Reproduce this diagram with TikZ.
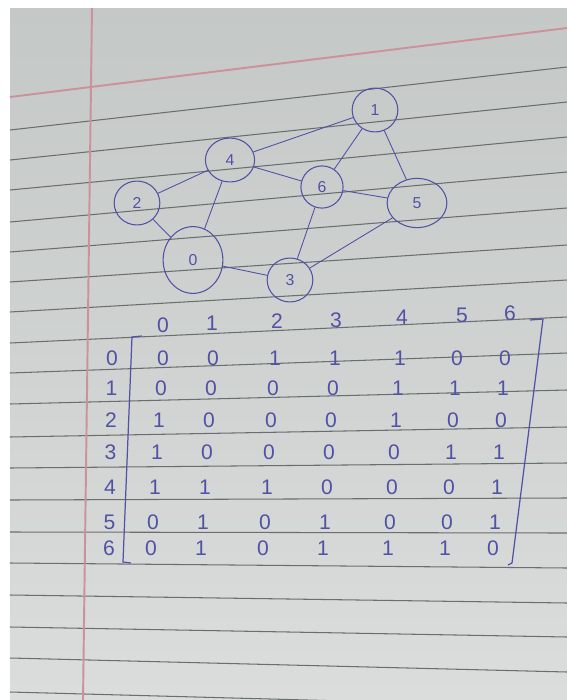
\documentclass[tikz,border=0pt]{standalone}
\usepackage{fontspec}
\setmainfont{Liberation Sans}
\usetikzlibrary{shapes.geometric}

\definecolor{ink}{RGB}{82,82,165}
\definecolor{papertop}{RGB}{196,200,199}
\definecolor{paperbot}{RGB}{218,221,219}
\definecolor{linegray}{RGB}{105,110,110}
\definecolor{marginred}{RGB}{205,145,155}

\begin{document}
\begin{tikzpicture}[
    x=0.02cm, y=-0.02cm,
    vert/.style={draw=ink, ellipse, inner sep=0pt, text=ink, font=\small, line width=0.6pt, minimum width=26, minimum height=25},
    edge/.style={draw=ink, line width=0.5pt},
    entry/.style={text=ink, font=\large, inner sep=0pt},
    rule/.style={draw=linegray, line width=0.6pt},
    margin/.style={draw=marginred, line width=1.1pt}
  ]
    \useasboundingbox (0,0) rectangle (567,700);
    \fill[white] (0,0) rectangle (567,700);
    \shade[top color=papertop, bottom color=paperbot] (10,8) rectangle (567,700);

    % ruled lines of the page
    \foreach \yl/\yr in {130/67, 160/102, 190/137, 222/172, 252/208, 282/245, 312/280,
        343/317, 373/353, 404/390, 437/427, 468/463, 500/498, 532/533, 563/568,
        595/603, 627/637, 658/672, 692/707}
      \draw[rule] (10,\yl) -- (567,\yr);

    % margins
    \draw[margin] (10,97) -- (567,28);
    \draw[margin] (92,8) -- (83,700);

    % graph
    \node[vert] (n1) at (375,110) {1};
    \node[vert, minimum width=28] (n4) at (230,160) {4};
    \node[vert] (n2) at (137,203) {2};
    \node[vert, minimum width=24, minimum height=24] (n6) at (322,187) {6};
    \node[vert, minimum width=34, minimum height=28] (n5) at (417,203) {5};
    \node[vert, minimum width=34, minimum height=38] (n0) at (193,260) {0};
    \node[vert] (n3) at (290,280) {3};

    \draw[edge] (n1) -- (n4);
    \draw[edge] (n1) -- (n6);
    \draw[edge] (n1) -- (n5);
    \draw[edge] (n4) -- (n2);
    \draw[edge] (n4) -- (n6);
    \draw[edge] (n4) -- (n0);
    \draw[edge] (n2) -- (n0);
    \draw[edge] (n0) -- (n3);
    \draw[edge] (n6) -- (n3);
    \draw[edge] (n6) -- (n5);
    \draw[edge] (n5) -- (n3);

    % adjacency matrix
    \foreach \c/\xx/\yy in {0/163/325, 1/212/323, 2/277/321, 3/336/320, 4/402/317, 5/462/315, 6/510/313}
      \node[entry] (h\c) at (\xx,\yy) {\c};

    \foreach \r/\yy/\vals in {0/358/{0,0,1,1,1,0,0}, 1/388/{0,0,0,0,1,1,1},
        2/420/{1,0,0,0,1,0,0}, 3/452/{1,0,0,0,0,1,1}, 4/487/{1,1,1,0,0,0,1},
        5/522/{0,1,0,1,0,0,1}, 6/548/{0,1,0,1,1,1,0}} {
      \node[entry] (r\r) at (112-0.5*\r,\yy) {\r};
      \foreach \v [count=\c from 0] in \vals {
        \pgfmathsetmacro\xx{{163,213,275,335,400,457,505}[\c]-2*\r}
        \node[entry] (m\r\c) at (\xx,\yy) {\v};
      }
    }

    % brackets
    \draw[ink, line width=0.7pt] (142,336) -- (132,337) -- (123,562) -- (131,563);
    \draw[ink, line width=0.7pt] (530,320) -- (543,319) -- (512,563) -- (508,565);
  \end{tikzpicture}
\end{document}
